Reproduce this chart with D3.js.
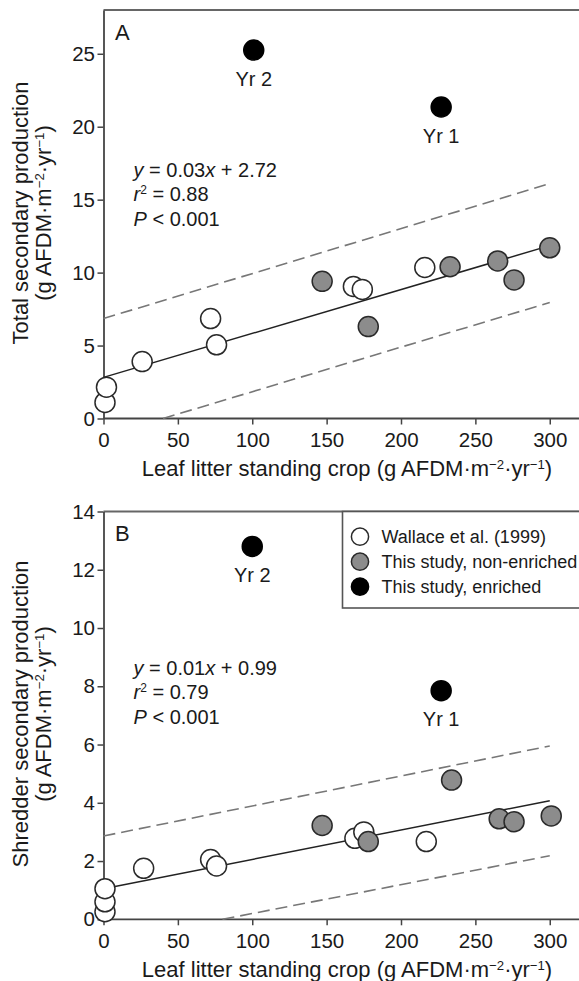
<!DOCTYPE html>
<html>
<head>
<meta charset="utf-8">
<script src="https://cdn.jsdelivr.net/npm/d3@7"></script>
<style>
  html, body { margin: 0; padding: 0; background: #fff; overflow: hidden; }
</style>
</head>
<body>
<div id="chart"></div>
<script>
// ---- data ----
const xTicks = [0, 50, 100, 150, 200, 250, 300];
const totalTicks = [0, 5, 10, 15, 20, 25];
const shredTicks = [0, 2, 4, 6, 8, 10, 12, 14];
const enrichedLabels = ["Yr 2", "Yr 1"];

// panel A: total secondary production
const totalWallaceX = [1, 2, 26, 72, 76, 168, 174, 216];
const totalWallaceY = [1.1, 2.15, 3.9, 6.85, 5.05, 9.05, 8.85, 10.35];
const totalStudyX = [147, 178, 233, 265, 276, 300];
const totalStudyY = [9.4, 6.3, 10.4, 10.8, 9.5, 11.7];
const totalEnrichedX = [101, 227];
const totalEnrichedY = [25.25, 21.35];
const totalFit = [[0, 2.82], [300, 11.85]];
const totalUpper = [[0, 6.85], [300, 16.1]];
const totalLower = [[40, 0], [300, 7.95]];

// panel B: shredder secondary production
const shredWallaceX = [1, 1, 1, 27, 72, 76, 169, 175, 217];
const shredWallaceY = [0.26, 0.6, 1.05, 1.75, 2.05, 1.83, 2.78, 3.0, 2.67];
const shredStudyX = [147, 178, 234, 266, 276, 301];
const shredStudyY = [3.22, 2.67, 4.78, 3.45, 3.35, 3.55];
const shredEnrichedX = [100, 227];
const shredEnrichedY = [12.8, 7.85];
const shredFit = [[0, 1.05], [300, 4.07]];
const shredUpper = [[0, 2.86], [300, 5.95]];
const shredLower = [[80, 0], [300, 2.18]];

const legendLabels = ["Wallace et al. (1999)", "This study, non-enriched", "This study, enriched"];

// ---- style ----
const FONT = "'Liberation Sans', Arial, Helvetica, sans-serif";
const INK = "#1a1a1a";
const AXIS = "#444";
const FILLS = { wallace: "#fff", study: "#8c8c8c", enriched: "#000" };
const W = 579, H = 981;

const svg = d3.select("#chart").append("svg")
  .attr("width", W).attr("height", H)
  .style("font-family", FONT);

// text built from pieces: {t, i (italic), sup}
function rich(sel, parts, size) {
  let shifted = false;
  const lift = size * 0.33;
  parts.forEach((p) => {
    const ts = sel.append("tspan").text(p.t);
    if (p.i) ts.attr("font-style", "italic");
    if (p.sup) {
      ts.attr("font-size", size * 0.6);
      if (!shifted) ts.attr("dy", -lift);
      shifted = true;
    } else if (shifted) {
      ts.attr("dy", lift);
      shifted = false;
    }
  });
  return sel;
}

const xLabelParts = [
  { t: "Leaf litter standing crop (g AFDM·m" }, { t: "−2", sup: true },
  { t: "·yr" }, { t: "−1", sup: true }, { t: ")" },
];
const unitParts = [
  { t: "(g AFDM·m" }, { t: "−2", sup: true },
  { t: "·yr" }, { t: "−1", sup: true }, { t: ")" },
];

function drawPanel(o) {
  const x = d3.scaleLinear().domain([0, 320]).range([103.5, 579.5]);
  const y = d3.scaleLinear().domain([0, o.yMax]).range([o.bottom, o.top]);
  const g = svg.append("g");

  // frame top (runs off the right edge, as in the figure)
  g.append("line")
    .attr("x1", x(0)).attr("x2", W + 10)
    .attr("y1", y(o.yMax)).attr("y2", y(o.yMax))
    .attr("stroke", "#666").attr("stroke-width", 1.8);

  // axes
  const ax = g.append("g").attr("transform", `translate(0,${y(0)})`)
    .call(d3.axisBottom(x).tickValues(xTicks).tickSize(6).tickPadding(8).tickSizeOuter(0));
  const ay = g.append("g").attr("transform", `translate(${x(0)},0)`)
    .call(d3.axisLeft(y).tickValues(o.yTicks).tickSize(6).tickPadding(2.5).tickSizeOuter(0));
  [ax, ay].forEach((a) => {
    a.select(".domain").attr("stroke", AXIS).attr("stroke-width", 1.8);
    a.selectAll(".tick line").attr("stroke", AXIS).attr("stroke-width", 1.5);
    a.selectAll(".tick text").attr("fill", INK).attr("font-size", 20.5).attr("font-family", FONT);
  });
  ax.select(".domain").attr("d", `M${x(0)},0H${W + 10}`);

  // regression line and prediction band
  const line = d3.line().x((d) => x(d[0])).y((d) => y(d[1]));
  [o.upper, o.lower].forEach((pts) => {
    g.append("path").attr("d", line(pts)).attr("fill", "none")
      .attr("stroke", "#777").attr("stroke-width", 1.6).attr("stroke-dasharray", "12,6");
  });
  g.append("path").attr("d", line(o.fit)).attr("fill", "none")
    .attr("stroke", "#222").attr("stroke-width", 1.5);

  // points
  const groups = [
    { xs: o.wallaceX, ys: o.wallaceY, fill: FILLS.wallace, stroke: "#2a2a2a" },
    { xs: o.studyX, ys: o.studyY, fill: FILLS.study, stroke: "#2a2a2a" },
    { xs: o.enrichedX, ys: o.enrichedY, fill: FILLS.enriched, stroke: "#000" },
  ];
  groups.forEach((grp) => {
    g.append("g").selectAll("circle").data(grp.xs.map((v, i) => [v, grp.ys[i]])).join("circle")
      .attr("cx", (d) => x(d[0])).attr("cy", (d) => y(d[1])).attr("r", 10)
      .attr("fill", grp.fill).attr("stroke", grp.stroke).attr("stroke-width", 1.5);
  });

  // Yr labels under the enriched points
  g.append("g").selectAll("text").data(o.enrichedX.map((v, i) => [v, o.enrichedY[i], enrichedLabels[i]])).join("text")
    .attr("x", (d) => x(d[0])).attr("y", (d) => y(d[1]) + 35.5)
    .attr("text-anchor", "middle").attr("font-size", 20).attr("fill", INK)
    .text((d) => d[2]);

  // panel letter
  g.append("text").attr("x", 115).attr("y", o.top + 29.5)
    .attr("font-size", 22).attr("fill", INK).text(o.letter);

  // statistics
  const st = o.top + o.statsOffset;
  o.stats.forEach((parts, i) => {
    rich(g.append("text").attr("x", 133.5).attr("y", st + i * 24.5)
      .attr("font-size", 20).attr("fill", INK), parts, 20);
  });

  // axis titles
  rich(g.append("text").attr("x", 347).attr("y", y(0) + 57.5)
    .attr("text-anchor", "middle").attr("font-size", 22).attr("fill", INK), xLabelParts, 22);
  rich(g.append("text").attr("transform", `translate(28,${o.labelCenter}) rotate(-90)`)
    .attr("text-anchor", "middle").attr("font-size", 22).attr("fill", INK), [{ t: o.yTitle }], 22);
  rich(g.append("text").attr("transform", `translate(51,${o.labelCenter}) rotate(-90)`)
    .attr("text-anchor", "middle").attr("font-size", 22).attr("fill", INK), unitParts, 22);

  return { x, y, g };
}

drawPanel({
  letter: "A", yMax: 28, top: 10, bottom: 418.5, yTicks: totalTicks,
  wallaceX: totalWallaceX, wallaceY: totalWallaceY,
  studyX: totalStudyX, studyY: totalStudyY,
  enrichedX: totalEnrichedX, enrichedY: totalEnrichedY,
  fit: totalFit, upper: totalUpper, lower: totalLower,
  yTitle: "Total secondary production", labelCenter: 213, statsOffset: 166.5,
  stats: [
    [{ t: "y", i: true }, { t: " = 0.03" }, { t: "x", i: true }, { t: " + 2.72" }],
    [{ t: "r", i: true }, { t: "2", sup: true }, { t: " = 0.88" }],
    [{ t: "P", i: true }, { t: " < 0.001" }],
  ],
});

const panelB = drawPanel({
  letter: "B", yMax: 14, top: 511.5, bottom: 919.3, yTicks: shredTicks,
  wallaceX: shredWallaceX, wallaceY: shredWallaceY,
  studyX: shredStudyX, studyY: shredStudyY,
  enrichedX: shredEnrichedX, enrichedY: shredEnrichedY,
  fit: shredFit, upper: shredUpper, lower: shredLower,
  yTitle: "Shredder secondary production", labelCenter: 714, statsOffset: 163,
  stats: [
    [{ t: "y", i: true }, { t: " = 0.01" }, { t: "x", i: true }, { t: " + 0.99" }],
    [{ t: "r", i: true }, { t: "2", sup: true }, { t: " = 0.79" }],
    [{ t: "P", i: true }, { t: " < 0.001" }],
  ],
});

// legend (panel B, hanging from the frame top)
const legend = panelB.g.append("g");
legend.append("rect").attr("x", 342.5).attr("y", 511.5).attr("width", 260).attr("height", 96.5)
  .attr("fill", "#fff").attr("stroke", "#555").attr("stroke-width", 1.6);
const legendFills = [FILLS.wallace, FILLS.study, FILLS.enriched];
const rows = legend.selectAll("g.row").data(legendLabels).join("g").attr("class", "row")
  .attr("transform", (d, i) => `translate(0,${536.7 + i * 25})`);
rows.append("circle").attr("cx", 360).attr("cy", 0).attr("r", 8.6)
  .attr("fill", (d, i) => legendFills[i]).attr("stroke", (d, i) => i === 2 ? "#000" : "#2a2a2a")
  .attr("stroke-width", 1.5);
rows.append("text").attr("x", 381.5).attr("y", 6.5).attr("font-size", 18).attr("fill", INK)
  .text((d) => d);
</script>
</body>
</html>
